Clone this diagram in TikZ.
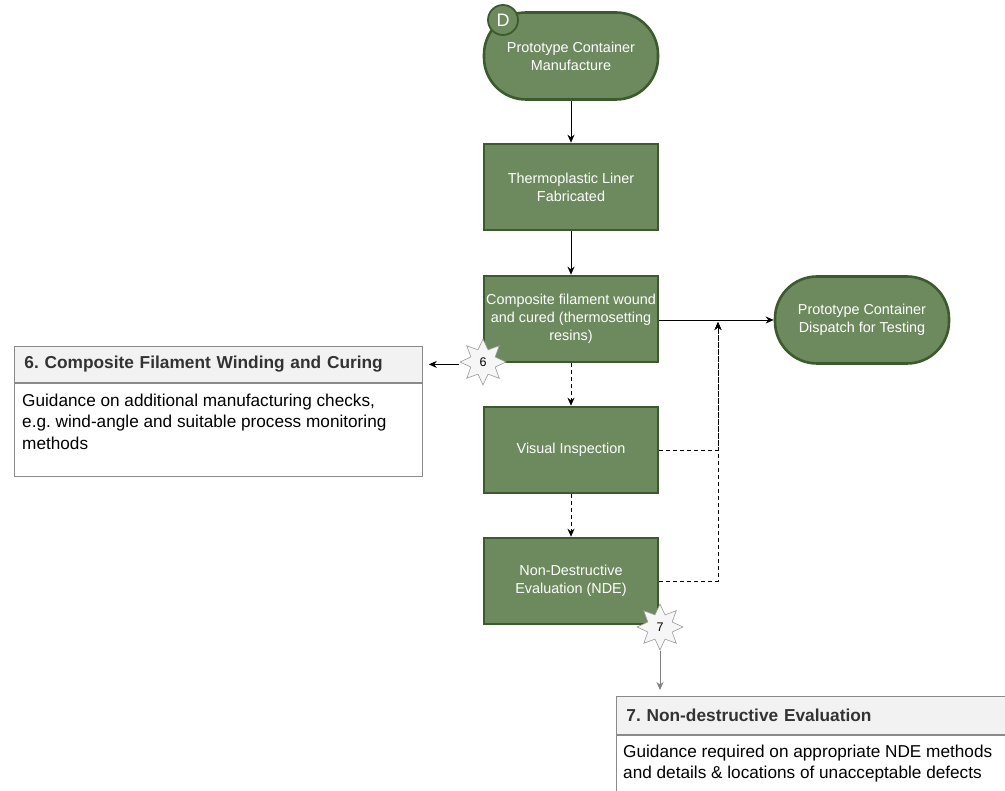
\documentclass[tikz,border=0pt]{standalone}
\usepackage{fontspec}
\setmainfont{Liberation Sans}
\usetikzlibrary{shapes.geometric,arrows.meta,calc}
\definecolor{leaf}{HTML}{6D8A5E}
\definecolor{leafdark}{HTML}{3B5A2D}
\definecolor{hdrfill}{HTML}{F2F2F2}
\definecolor{hdrtext}{HTML}{333333}
\definecolor{boxline}{HTML}{8A8A8A}
\frenchspacing
\begin{document}
\begin{tikzpicture}[x=1pt,y=-1pt,
  stepbox/.style={rectangle, draw=leafdark, line width=2.6pt, fill=leaf,
    minimum width=174pt, minimum height=86pt, text=white, align=center,
    font=\fontsize{14.4}{18}\selectfont, inner sep=1pt},
  terminal/.style={stepbox, rounded corners=42pt, minimum height=87pt},
  badge/.style={star, star points=8, star point ratio=1.75, minimum size=46pt,
    draw=gray!80, fill=gray!7, inner sep=0pt, line width=0.6pt,
    font=\fontsize{12.5}{14}\selectfont},
  hdr/.style={rectangle, draw=boxline, fill=hdrfill, line width=0.8pt,
    anchor=north west, inner xsep=10pt, text=hdrtext,
    font=\fontsize{17.3}{20}\bfseries\selectfont},
  body/.style={rectangle, draw=boxline, fill=white, line width=0.8pt, anchor=north west},
  bodytext/.style={anchor=north west, align=left, inner sep=0pt, text=black,
    font=\fontsize{17.2}{21.5}\selectfont},
  flow/.style={-{Stealth[length=8pt,width=7pt]}, line width=0.9pt},
  dflow/.style={flow, dash pattern=on 4pt off 3pt},
]
\useasboundingbox (0,0) rectangle (1005,791);
\clip (0,0) rectangle (1005,791);

% main process column
\node[terminal] (mfg) at (571,56) {Prototype Container\\Manufacture};
\node[circle, draw=leafdark, fill=leaf, line width=1.8pt, minimum size=30pt,
  inner sep=0pt, text=white, font=\fontsize{18}{20}\selectfont] (d) at (503,20) {D};
\node[stepbox] (liner) at (571,187) {Thermoplastic Liner\\Fabricated};
\node[stepbox] (wind) at (571,319) {Composite filament wound\\and cured (thermosetting\\resins)};
\node[stepbox] (vis) at (571,450) {Visual Inspection};
\node[stepbox] (nde) at (571,581) {Non-Destructive\\Evaluation (NDE)};
\node[terminal] (disp) at (862,320) {Prototype Container\\Dispatch for Testing};

% connectors
\draw[flow] (mfg) -- (liner);
\draw[flow] (liner) -- (wind);
\draw[dflow] (wind) -- (vis);
\draw[dflow] (vis) -- (nde);
\draw[flow] (wind.east |- disp.west) -- (disp.west);
\coordinate (join) at (718,322);
\draw[dflow] (vis.east) -| (join);
\draw[dflow] (nde.east) -| (join);

% guidance box 6
\node[hdr, minimum width=408pt, minimum height=36pt, text width=388pt, align=left] (h6) at (14,346)
  {6. Composite Filament Winding and Curing};
\node[body, minimum width=408pt, minimum height=93pt] (b6) at (h6.south west) {};
\node[bodytext] (t6) at ($(b6.north west)+(8,11)$)
  {Guidance on additional manufacturing checks,\\e.g. wind-angle and suitable process monitoring\\methods};

% guidance box 7
\node[hdr, minimum width=400pt, minimum height=38pt, text width=380pt, align=left] (h7) at (616,696)
  {7. Non-destructive Evaluation};
\node[body, minimum width=400pt, minimum height=80pt] (b7) at (h7.south west) {};
\node[bodytext] (t7) at ($(b7.north west)+(7,10)$)
  {Guidance required on appropriate NDE methods\\and details \& locations of unacceptable defects};

% reference badges
\node[badge] (s6) at (483,362) {6};
\node[badge] (s7) at (660,627) {7};
\draw[flow, shorten >=6pt] (s6.west |- h6.east) -- (h6.east);
\draw[flow, draw=gray, shorten >=6pt] (s7.south) -- (s7.south |- h7.north);
\end{tikzpicture}
\end{document}
